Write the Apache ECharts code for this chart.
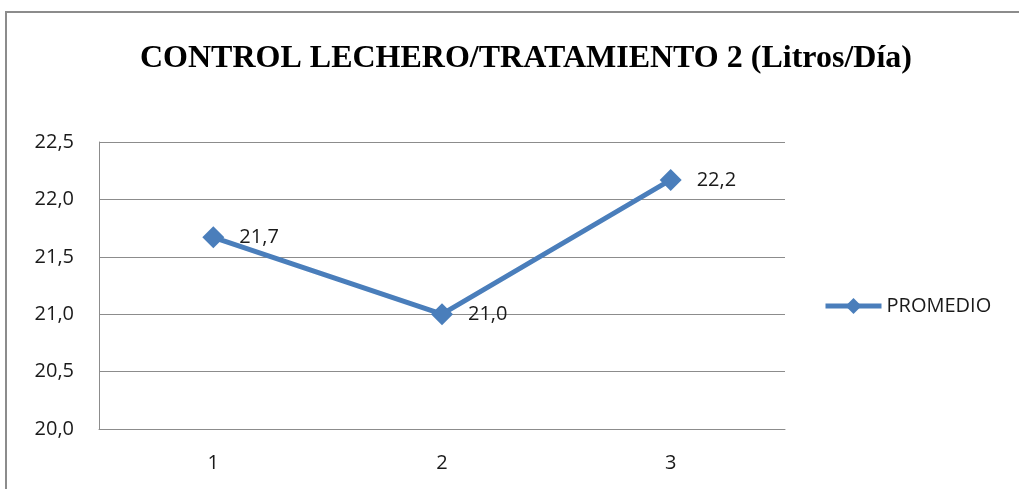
<!DOCTYPE html>
<html>
<head>
	<meta charset="utf-8" />
	<title>Control lechero</title>
	<script type="text/javascript" src="https://cdn.jsdelivr.net/npm/echarts@6/dist/echarts.min.js"></script>
	<style>
		html, body { margin: 0; padding: 0; background: #fff; }
		#main { width: 1019px; height: 489px; }
	</style>
</head>
<body>
	<div id="main"></div>
	<script type="text/javascript">
		// datos
		var categorias = ['1', '2', '3'];
		var promedio = [21.67, 21.0, 22.17];
		var serieNombre = 'PROMEDIO';
		var titulo = 'CONTROL LECHERO/TRATAMIENTO 2 (Litros/Día)';

		function coma(v, dec) {
			return v.toFixed(dec).replace('.', ',');
		}

		var chart = echarts.init(document.getElementById('main'), null, { renderer: 'canvas' });
		var option = {
			animation: false,
			graphic: [
				{
					type: 'rect',
					shape: { x: 6, y: 12, width: 1100, height: 600 },
					style: { fill: 'none', stroke: '#8c8c8c', lineWidth: 2 }
				}
			],
			title: {
				text: titulo,
				left: 135,
				top: 38,
				textStyle: {
					fontFamily: 'Liberation Serif',
					fontWeight: 'bold',
					fontSize: 32,
					color: '#000'
				}
			},
			legend: {
				left: 818,
				top: 291,
				itemWidth: 56,
				itemHeight: 20,
				itemGap: 4,
				lineStyle: { width: 5, color: '#4a7ebb' },
				itemStyle: { color: '#4a7ebb' },
				textStyle: { fontFamily: 'Open Sans', fontSize: 20, color: '#1a1a1a' },
				data: [serieNombre]
			},
			grid: {
				left: 99,
				top: 142,
				right: 234,
				bottom: 60
			},
			xAxis: {
				type: 'category',
				data: categorias,
				boundaryGap: true,
				axisLine: { lineStyle: { color: '#8c8c8c', width: 1 } },
				axisTick: { show: false },
				axisLabel: { margin: 24, fontFamily: 'Open Sans', fontSize: 20, color: '#1a1a1a' }
			},
			yAxis: {
				type: 'value',
				min: 20,
				max: 22.5,
				interval: 0.5,
				axisLine: { show: true, lineStyle: { color: '#8c8c8c', width: 1 } },
				axisTick: { show: false },
				axisLabel: {
					margin: 25,
					fontFamily: 'Open Sans',
					fontSize: 20,
					color: '#1a1a1a',
					formatter: function (v) { return coma(v, 1); }
				},
				splitLine: { lineStyle: { color: '#8c8c8c', width: 1 } }
			},
			series: [
				{
					name: serieNombre,
					type: 'line',
					data: promedio,
					symbol: 'diamond',
					symbolSize: 22,
					lineStyle: { color: '#4a7ebb', width: 5 },
					itemStyle: { color: '#4a7ebb' },
					label: {
						show: true,
						position: 'right',
						distance: 15,
						fontFamily: 'Open Sans',
						fontSize: 20,
						color: '#1a1a1a',
						formatter: function (p) { return coma(p.value, 1); }
					}
				}
			]
		};
		chart.setOption(option);
	</script>
</body>
</html>
